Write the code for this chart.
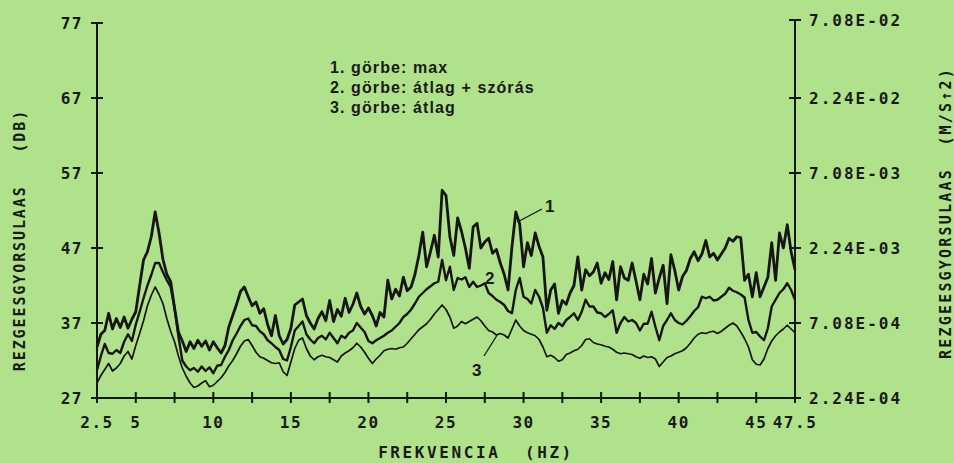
<!DOCTYPE html>
<html>
<head>
<meta charset="utf-8">
<script src="https://cdn.jsdelivr.net/npm/d3@7"></script>
<style>
  html, body { margin: 0; padding: 0; background: #afe28b; }
  svg { display: block; }
  .plot { font-family: "DejaVu Sans Mono", monospace; font-weight: bold; fill: #1a1a1a; }
  .legend { font-family: "Liberation Sans", Arial, sans-serif; font-weight: bold; fill: #1a1a1a; }
</style>
</head>
<body>
<div id="chart"></div>
<script>
// frequency grid of the plotter output, 0.25 Hz steps
const freqs = d3.range(0, 181).map((i) => 2.5 + i * 0.25);

// 1. görbe: max
const curveMax = [
  33.8, 35.5, 36.0, 38.3, 36.2, 37.6, 36.4, 37.8, 36.3, 37.5, 38.5, 42.0,
  45.4, 46.5, 48.5, 51.8, 49.0, 45.5, 43.5, 42.5, 39.0, 35.8, 34.6, 33.2,
  34.5, 33.6, 34.7, 33.9, 34.6, 33.4, 34.5, 33.7, 33.0, 34.0, 36.5, 38.0,
  39.5, 41.2, 41.8, 40.5, 39.3, 39.8, 38.3, 38.9, 36.8, 35.3, 38.0, 35.3,
  34.2, 34.8, 36.3, 39.4, 39.8, 40.2, 38.0, 37.0, 36.2, 37.6, 38.5, 37.3,
  40.0, 37.2, 38.8, 37.9, 40.3, 38.4, 39.5, 41.0, 39.2, 38.2, 39.0, 38.0,
  36.6, 38.4, 37.8, 42.7, 40.2, 41.5, 40.6, 43.1, 41.3, 41.8, 43.5, 46.0,
  49.1, 44.5, 46.5, 48.7, 45.8, 54.7, 54.0, 48.5, 46.0, 51.0, 49.2, 47.0,
  44.3, 49.8, 50.3, 47.0, 47.8, 48.3, 46.3, 46.8, 45.0, 43.5, 41.4, 47.1,
  51.8, 50.2, 44.5, 47.7, 46.0, 49.0, 47.2, 45.8, 38.7, 41.4, 42.2, 38.3,
  40.0, 39.5, 41.0, 42.0, 45.8, 41.4, 44.1, 43.3, 43.8, 45.0, 42.3, 43.7,
  42.8, 45.2, 40.1, 44.5, 43.0, 42.7, 45.0, 42.6, 40.1, 43.5, 42.2, 45.6,
  41.0, 43.0, 44.7, 39.6, 46.1, 44.0, 41.4, 43.2, 44.0, 45.6, 46.5, 45.3,
  46.2, 48.0, 45.8, 46.3, 45.4, 46.2, 47.0, 48.3, 47.9, 48.5, 48.4, 42.7,
  43.5, 40.5, 43.7, 40.5, 41.8, 43.1, 47.7, 42.7, 49.0, 47.0, 50.1, 46.5,
  44.1
];

// 2. görbe: átlag + szórás
const curveMeanSd = [
  30.7, 32.6, 34.2, 33.0, 32.9, 33.4, 33.0, 34.5, 35.5, 34.6, 36.8, 38.5,
  40.3, 42.0, 43.4, 45.0, 45.0, 43.8, 42.7, 41.8, 39.0, 35.2, 32.0, 31.2,
  30.7, 31.0, 30.5, 31.2, 30.6, 31.1, 30.3, 31.3, 31.4, 32.5, 33.4, 34.7,
  35.6, 36.6, 37.4, 37.6, 36.7, 36.6, 35.9, 35.5, 34.7, 34.3, 33.8, 33.4,
  32.2, 32.0, 33.8, 36.0, 36.6, 37.2, 35.5, 34.8, 34.3, 35.0, 35.3, 34.8,
  35.7, 35.0, 34.3, 35.3, 35.0, 35.7, 36.0, 37.0, 36.4, 35.8, 34.6, 34.3,
  34.7, 35.0, 35.3, 35.7, 36.0, 36.5, 37.0, 37.8, 38.2, 38.8, 39.6, 40.5,
  41.0, 41.5, 41.9, 42.3, 42.5, 45.4, 42.7, 44.5, 41.4, 43.0, 42.8, 43.1,
  41.8, 42.5, 41.8, 42.0, 42.3, 41.0, 40.6, 40.1, 39.8, 39.4, 38.6, 38.3,
  41.4, 43.0, 40.5, 40.2, 39.6, 41.4, 40.5, 39.0, 35.7, 36.7, 36.2, 37.0,
  36.6, 37.4, 37.8, 38.3, 37.4, 38.5, 40.1, 39.2, 39.2, 38.4, 38.3, 37.8,
  38.2, 38.7, 35.7, 37.0, 37.8, 37.2, 37.4, 37.0, 36.0, 36.9, 36.9, 38.5,
  36.5, 34.7, 36.6, 37.4, 38.3, 37.4, 37.0, 36.8, 37.3, 37.9, 38.6, 39.1,
  40.5, 40.3, 40.5, 40.0, 40.1, 40.5, 40.9, 41.7, 41.3, 41.1, 40.8, 40.4,
  37.4, 35.7, 35.8, 35.2, 34.7, 36.3, 39.2, 40.1, 41.0, 41.5, 42.3, 41.4,
  40.1
];

// 3. görbe: átlag
const curveMean = [
  29.0, 30.0, 30.8, 31.6, 30.6, 31.0, 31.6, 32.6, 33.2, 32.2, 34.0, 35.6,
  37.3, 39.3, 40.7, 41.8, 40.8, 39.6, 37.6, 35.9, 34.5, 32.6, 31.0, 29.9,
  29.0, 28.4, 28.6, 29.0, 29.3, 28.5, 28.7, 29.2, 29.7, 30.4, 31.3, 32.0,
  32.9, 33.9, 34.6, 34.8, 34.0, 33.1, 32.5, 32.3, 32.0, 31.7, 31.6, 31.7,
  30.5, 30.0, 31.8, 33.6, 34.7, 35.0, 33.6, 32.6, 32.1, 32.5, 32.7, 32.5,
  32.4, 32.1, 31.8, 32.6, 33.0, 33.3, 33.7, 34.3, 33.8, 33.1, 32.3, 31.6,
  32.2, 32.7, 33.3, 33.5, 33.6, 33.5, 33.7, 33.8, 34.3, 34.9, 35.5, 36.1,
  36.5, 36.9, 37.5, 38.2, 38.8, 39.4, 38.8, 37.8, 36.3, 36.6, 37.2, 36.9,
  37.2, 37.5, 37.8, 37.3, 36.6, 36.0, 35.8, 35.4, 35.6, 35.4, 35.0, 36.2,
  37.4, 36.6, 36.0, 35.7, 35.5, 35.3, 34.8, 33.8, 32.5, 32.7, 32.4, 31.9,
  32.1, 32.8, 33.0, 33.3, 33.5, 34.0, 34.8, 34.9, 34.4, 34.2, 34.1, 33.9,
  33.8, 33.5, 33.1, 32.9, 33.0, 32.9, 32.8, 32.5, 32.3, 32.6, 32.4, 32.5,
  32.2, 31.2, 31.8, 32.4, 32.6, 32.9, 33.1, 33.3, 33.7, 34.3, 35.0, 35.5,
  35.7, 35.6, 35.8, 35.9, 35.6, 35.9, 36.3, 36.7, 37.0, 36.6, 35.8, 34.9,
  33.8, 32.1, 31.5, 31.4, 32.2, 33.6, 34.6, 35.3, 35.8, 36.2, 36.7, 36.2,
  35.7
];

const xTicks = d3.range(0, 19).map((i) => 2.5 + i * 2.5);
const xTickLabels = ['2.5', '5', '', '10', '', '15', '', '20', '', '25', '', '30', '', '35', '', '40', '', '45', '47.5'];
const yTicks = [27, 37, 47, 57, 67, 77];
const yRightLabels = ['2.24E-04', '7.08E-04', '2.24E-03', '7.08E-03', '2.24E-02', '7.08E-02'];
const legendLines = ['1. görbe: max', '2. görbe: átlag + szórás', '3. görbe: átlag'];

const width = 954;
const height = 463;
const margin = { top: 23, right: 159, bottom: 65, left: 97 };

const svg = d3
  .select('#chart')
  .append('svg')
  .attr('width', width)
  .attr('height', height);

svg.append('rect').attr('width', width).attr('height', height).attr('fill', '#afe28b');

const x = d3
  .scaleLinear()
  .domain([2.5, 47.5])
  .range([margin.left, width - margin.right]);

const y = d3
  .scaleLinear()
  .domain([27, 77])
  .range([height - margin.bottom, margin.top]);

const ink = '#161616';

// axes lines
const axes = svg.append('g').attr('stroke', ink).attr('stroke-width', 2).attr('fill', 'none');
axes.append('line').attr('x1', x(2.5)).attr('x2', x(2.5)).attr('y1', y(77)).attr('y2', y(27));
axes.append('line').attr('x1', x(47.5)).attr('x2', x(47.5)).attr('y1', y(77) - 3).attr('y2', y(27));
axes.append('line').attr('x1', x(2.5)).attr('x2', x(47.5)).attr('y1', y(27)).attr('y2', y(27));

// ticks cross the axis on both sides, like the plotter drew them
axes
  .selectAll('.xt')
  .data(xTicks)
  .join('line')
  .attr('x1', (d) => x(d))
  .attr('x2', (d) => x(d))
  .attr('y1', y(27) - 6)
  .attr('y2', y(27) + 5);

axes
  .selectAll('.ylt')
  .data(yTicks)
  .join('line')
  .attr('x1', x(2.5) - 6)
  .attr('x2', x(2.5) + 6)
  .attr('y1', (d) => y(d))
  .attr('y2', (d) => y(d));

axes
  .selectAll('.yrt')
  .data(yTicks)
  .join('line')
  .attr('x1', x(47.5) - 6)
  .attr('x2', x(47.5) + 6)
  .attr('y1', (d, i) => y(d) - (i === yTicks.length - 1 ? 3 : 0))
  .attr('y2', (d, i) => y(d) - (i === yTicks.length - 1 ? 3 : 0));

const plotText = svg.append('g').attr('class', 'plot');

plotText
  .selectAll('.xl')
  .data(xTicks)
  .join('text')
  .attr('x', (d) => x(d))
  .attr('y', y(27) + 30)
  .attr('text-anchor', 'middle')
  .attr('font-size', 16)
  .attr('letter-spacing', 1.5)
  .text((d, i) => xTickLabels[i]);

plotText
  .selectAll('.yl')
  .data(yTicks)
  .join('text')
  .attr('x', x(2.5) - 14)
  .attr('y', (d) => y(d) + 6)
  .attr('text-anchor', 'end')
  .attr('font-size', 16)
  .attr('letter-spacing', 1.5)
  .text((d) => d);

plotText
  .selectAll('.yr')
  .data(yTicks)
  .join('text')
  .attr('x', x(47.5) + 14)
  .attr('y', (d, i) => y(d) + 6 - (i === yTicks.length - 1 ? 3 : 0))
  .attr('font-size', 16)
  .attr('letter-spacing', 2)
  .text((d, i) => yRightLabels[i]);

plotText
  .append('text')
  .attr('x', 476)
  .attr('y', 458)
  .attr('text-anchor', 'middle')
  .attr('font-size', 16)
  .attr('letter-spacing', 2.6)
  .attr('xml:space', 'preserve')
  .text('FREKVENCIA  (HZ)');

plotText
  .append('text')
  .attr('transform', 'translate(25,240) rotate(-90)')
  .attr('text-anchor', 'middle')
  .attr('font-size', 15)
  .attr('letter-spacing', 1.9)
  .attr('xml:space', 'preserve')
  .text('REZGEESGYORSULAAS   (DB)');

plotText
  .append('text')
  .attr('transform', 'translate(951,213) rotate(-90)')
  .attr('text-anchor', 'middle')
  .attr('font-size', 15)
  .attr('letter-spacing', 2.2)
  .attr('xml:space', 'preserve')
  .text('REZGEESGYORSULAAS  (M/S↑2)');

// curves
const line = d3
  .line()
  .x((d, i) => x(freqs[i]))
  .y((d) => y(d));

const curves = [
  { values: curveMax, w: 2.8 },
  { values: curveMeanSd, w: 2.4 },
  { values: curveMean, w: 1.7 },
];

svg
  .append('g')
  .attr('fill', 'none')
  .attr('stroke', ink)
  .attr('stroke-linejoin', 'round')
  .selectAll('path')
  .data(curves)
  .join('path')
  .attr('stroke-width', (d) => d.w)
  .attr('d', (d) => line(d.values));

// legend
const legend = svg.append('g').attr('class', 'legend');
legend
  .selectAll('text')
  .data(legendLines)
  .join('text')
  .attr('x', 330)
  .attr('y', (d, i) => 73 + i * 20)
  .attr('font-size', 16)
  .attr('letter-spacing', 1.1)
  .text((d) => d);

// curve numbers with leader lines
const labels = svg.append('g').attr('class', 'legend');
labels.append('text').attr('x', 545).attr('y', 212).attr('font-size', 17).text('1');
labels.append('text').attr('x', 485).attr('y', 284).attr('font-size', 17).text('2');
labels.append('text').attr('x', 472).attr('y', 376).attr('font-size', 17).text('3');
const leaders = svg.append('g').attr('stroke', ink).attr('stroke-width', 1.3);
leaders.append('line').attr('x1', 542).attr('y1', 209).attr('x2', x(29.6)).attr('y2', 222);
leaders.append('line').attr('x1', 484).attr('y1', 356).attr('x2', x(28.3)).attr('y2', y(35.4));
</script>
</body>
</html>
